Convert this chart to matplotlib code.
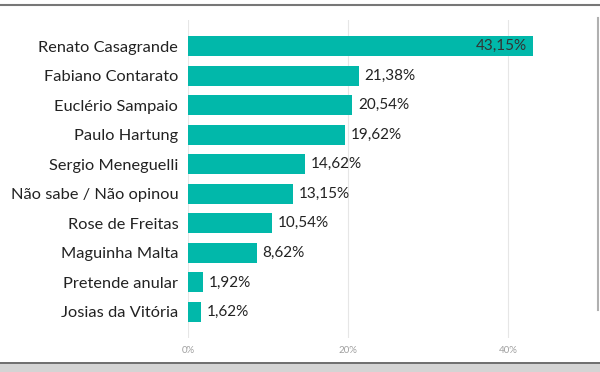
import matplotlib.pyplot as plt
from matplotlib.lines import Line2D
from matplotlib.patches import Rectangle

plt.rcParams['font.family'] = ['Lato', 'DejaVu Sans']

candidates = ['Renato Casagrande', 'Fabiano Contarato', 'Euclério Sampaio', 'Paulo Hartung',
              'Sergio Meneguelli', 'Não sabe / Não opinou', 'Rose de Freitas', 'Maguinha Malta',
              'Pretende anular', 'Josias da Vitória']
values = [43.15, 21.38, 20.54, 19.62, 14.62, 13.15, 10.54, 8.62, 1.92, 1.62]
x_ticks = [0, 20, 40]

teal = '#01B8AA'

fig = plt.figure(figsize=(6, 3.72), dpi=100)
ax = fig.add_axes([188 / 600, 1 - 338 / 372, (588 - 188) / 600, 318 / 372])

pos = list(range(len(candidates)))
ax.barh(pos, values, height=0.68, color=teal)
ax.set_ylim(9.88, -0.88)
ax.set_xlim(0, 50)

for p, v in zip(pos, values):
    label = f'{v:.2f}%'.replace('.', ',')
    if v > 40:
        # biggest bar gets its label inside
        ax.text(v - 0.8, p, label, va='center', ha='right', fontsize=11, color='#333333')
    else:
        ax.text(v + 0.7, p, label, va='center', ha='left', fontsize=11, color='#222222')

ax.set_yticks(pos)
ax.set_yticklabels(candidates, fontsize=11.8, color='#222222')
ax.set_xticks(x_ticks)
ax.set_xticklabels([f'{t}%' for t in x_ticks], fontsize=7, color='#a0a0a0')
ax.tick_params(axis='both', length=0)
ax.tick_params(axis='y', pad=7)
ax.tick_params(axis='x', pad=6)
ax.grid(axis='x', color='#e6e6e6', linewidth=0.8)
ax.set_axisbelow(True)
for s in ax.spines.values():
    s.set_visible(False)

# frame around the visual
fig.add_artist(Line2D([0, 1], [1 - 5 / 372, 1 - 5 / 372], color='#777777', linewidth=1.5))
fig.add_artist(Rectangle((0, 0), 1, 1 - 364 / 372, color='#d4d4d4', linewidth=0))
fig.add_artist(Line2D([0, 1], [1 - 363 / 372, 1 - 363 / 372], color='#555555', linewidth=1.2))
fig.add_artist(Line2D([597.5 / 600, 597.5 / 600], [1 - 310 / 372, 1 - 18 / 372], color='#b0b0b0', linewidth=1.5))

fig.savefig('out.png', dpi=100)
